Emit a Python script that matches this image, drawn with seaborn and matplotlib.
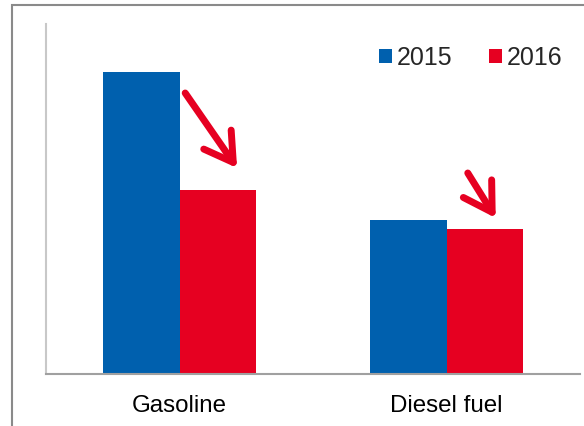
import matplotlib
matplotlib.use("Agg")
import matplotlib.pyplot as plt
import seaborn as sns
import pandas as pd
from matplotlib.patches import Rectangle

# values (arbitrary units, axis has no labels)
fuels = ["Gasoline", "Diesel fuel"]
years = ["2015", "2016"]
values_2015 = [302, 154]
values_2016 = [184, 145]

BLUE = "#0060ae"
RED = "#e60021"

df = pd.DataFrame({
    "fuel": fuels * 2,
    "year": [years[0]] * 2 + [years[1]] * 2,
    "value": values_2015 + values_2016,
})

sns.set_style("white")
plt.rcParams["font.family"] = ["Liberation Sans", "DejaVu Sans"]

fig = plt.figure(figsize=(5.84, 4.26), dpi=100)
ax = fig.add_axes([46 / 584, 1 - 373.7 / 426, 534 / 584, 349.4 / 426])

sns.barplot(data=df, x="fuel", y="value", hue="year", order=fuels,
            hue_order=years, palette=[BLUE, RED], width=0.573,
            saturation=1, ax=ax, linewidth=0)

ax.set_xlim(-0.5, 1.5)
ax.set_ylim(0, 349.4)
ax.set_xlabel("")
ax.set_ylabel("")
ax.set_yticks([])
ax.tick_params(axis="x", length=0, labelsize=17.4, pad=15, colors="black")

for s in ["top", "right"]:
    ax.spines[s].set_visible(False)
ax.spines["left"].set_color("#c8c8c8")
ax.spines["left"].set_linewidth(1.5)
ax.spines["bottom"].set_color("#a0a0a0")
ax.spines["bottom"].set_linewidth(1.5)

# legend
ax.legend(loc="upper left", bbox_to_anchor=((379 - 46) / 534, (373.7 - 46) / 349.4),
          ncol=2, frameon=False, fontsize=18, handlelength=0.52, handleheight=0.5,
          handletextpad=0.2, columnspacing=1.45, borderaxespad=0, borderpad=0)

# red down arrows
def px(x, y):
    return ((x - 180.3) / 267.4, 373.7 - y)

arrow = dict(arrowstyle="->,head_length=20,head_width=12", mutation_scale=1,
             lw=5, color=RED, shrinkA=0, shrinkB=0, capstyle="round")
ax.annotate("", xy=px(238, 168), xytext=px(186, 93), arrowprops=arrow)
ax.annotate("", xy=px(497, 218), xytext=px(469, 173), arrowprops=arrow)

# outer frame of the picture
fig.patches.append(Rectangle((11.5 / 584, -0.1), 1.2, (426 - 4.8) / 426 + 0.1,
                             transform=fig.transFigure, fill=False,
                             edgecolor="#8a8a8a", linewidth=1.5))

fig.savefig("out.png", dpi=100)
